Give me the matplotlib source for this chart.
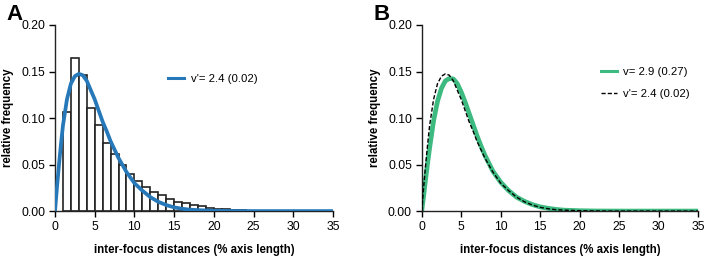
import matplotlib.pyplot as plt

plt.rcParams['font.family'] = ['Liberation Sans', 'DejaVu Sans']

# histogram: bin left edges (width 1) and relative frequencies
bin_left = list(range(1, 26))
hist_freq = [0.106, 0.164, 0.146, 0.111, 0.092, 0.073, 0.061, 0.049, 0.040, 0.032,
             0.026, 0.020, 0.017, 0.013, 0.010, 0.0086, 0.0065, 0.005, 0.0036, 0.0025,
             0.0018, 0.0011, 0.0007, 0.0004, 0.0002]

# fitted curve v' = 2.4
x_fit = [0, 0.25, 0.5, 0.75, 1, 1.5, 2, 2.5, 3, 3.5, 4, 4.5, 5, 5.5, 6, 6.5, 7, 7.5, 8,
         9, 10, 11, 12, 13, 14, 15, 16, 17, 18, 20, 22, 25, 35]
y_vprime = [0, 0.026, 0.05, 0.072, 0.092, 0.12, 0.137, 0.145, 0.1475, 0.146, 0.14, 0.13,
            0.12, 0.108, 0.096, 0.086, 0.075, 0.066, 0.057, 0.042, 0.030, 0.022, 0.015,
            0.010, 0.0065, 0.004, 0.0025, 0.0015, 0.001, 0.0004, 0.0001, 0, 0]

# fitted curve v = 2.9
y_v = [0, 0.017, 0.035, 0.052, 0.068, 0.097, 0.118, 0.132, 0.14, 0.1425, 0.142, 0.137,
       0.128, 0.117, 0.105, 0.093, 0.081, 0.07, 0.06, 0.043, 0.031, 0.022, 0.015,
       0.0105, 0.007, 0.0045, 0.003, 0.0018, 0.001, 0.0004, 0.0001, 0, 0]

blue = '#2678b8'
green = '#3dba80'

fig = plt.figure(figsize=(7.09, 2.59), dpi=100)
axA = fig.add_axes([0.0776, 0.185, 0.392, 0.7185])
axB = fig.add_axes([0.5948, 0.185, 0.390, 0.7185])

axA.bar(bin_left, hist_freq, width=1, align='edge', color='white',
        edgecolor='#222222', linewidth=1.2, zorder=2)
axA.plot(x_fit, y_vprime, color=blue, lw=2.7, label="v'= 2.4 (0.02)", zorder=3)
legA = axA.legend(loc='upper left', bbox_to_anchor=(0.37, 0.79), frameon=False,
                  fontsize=8.2, handlelength=1.4, handletextpad=0.6)
for h in legA.get_lines():
    h.set_linewidth(2.2)

axB.plot(x_fit, y_v, color=green, lw=3.4, label='v= 2.9 (0.27)', zorder=2)
axB.plot(x_fit, y_vprime, color='black', lw=1.0, ls=(0, (3, 1.5)),
         label="v'= 2.4 (0.02)", zorder=3)
legB = axB.legend(loc='upper left', bbox_to_anchor=(0.61, 0.83), frameon=False,
                  fontsize=8.2, handlelength=1.4, handletextpad=0.6, labelspacing=1.1)
legB.get_lines()[0].set_linewidth(2.2)

for ax, letter in [(axA, 'A'), (axB, 'B')]:
    ax.set_xlim(0, 35)
    ax.set_ylim(0, 0.20)
    ax.set_xticks(range(0, 36, 5))
    ax.set_yticks([0, 0.05, 0.10, 0.15, 0.20])
    ax.set_yticklabels(['0.00', '0.05', '0.10', '0.15', '0.20'])
    for s in ['top', 'right']:
        ax.spines[s].set_visible(False)
    for s in ['left', 'bottom']:
        ax.spines[s].set_linewidth(1.0)
        ax.spines[s].set_color('#222222')
    ax.tick_params(direction='out', length=4, width=1.0, labelsize=8.8, pad=3)
    ax.set_xlabel('inter-focus distances (% axis length)', fontsize=8.3,
                  fontweight='bold', labelpad=8)
    ax.set_ylabel('relative frequency', fontsize=8.3, fontweight='bold', labelpad=5)
    ax.text(-0.175, 1.115, letter, transform=ax.transAxes, fontsize=16,
            fontweight='bold', va='top', ha='left')

fig.savefig('out.png', dpi=100)
